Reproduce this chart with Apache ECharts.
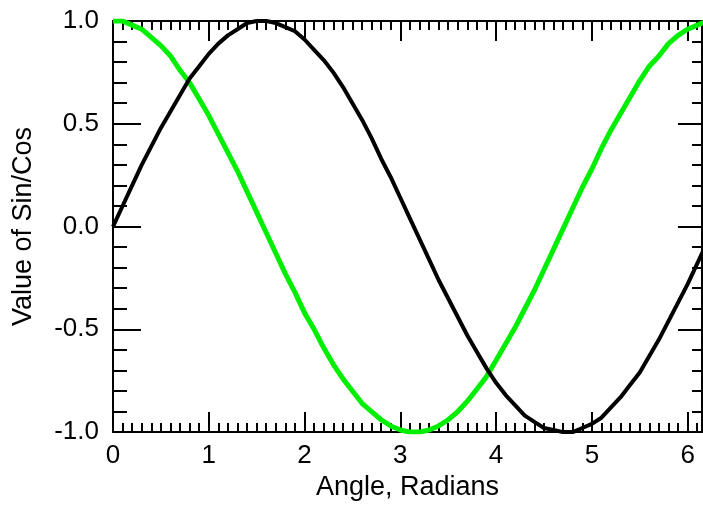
<!DOCTYPE html>
<html>
<head>
<meta charset="utf-8">
<script src="https://cdn.jsdelivr.net/npm/echarts@6/dist/echarts.min.js"></script>
<style>
  html, body { margin: 0; padding: 0; background: #fff; }
  #main { width: 703px; height: 506px; }
</style>
</head>
<body>
<div id="main"></div>
<script>
// angles, step 0.1 rad
var angles = [0.0, 0.1, 0.2, 0.3, 0.4, 0.5, 0.6, 0.7, 0.8, 0.9,
  1.0, 1.1, 1.2, 1.3, 1.4, 1.5, 1.6, 1.7, 1.8, 1.9,
  2.0, 2.1, 2.2, 2.3, 2.4, 2.5, 2.6, 2.7, 2.8, 2.9,
  3.0, 3.1, 3.2, 3.3, 3.4, 3.5, 3.6, 3.7, 3.8, 3.9,
  4.0, 4.1, 4.2, 4.3, 4.4, 4.5, 4.6, 4.7, 4.8, 4.9,
  5.0, 5.1, 5.2, 5.3, 5.4, 5.5, 5.6, 5.7, 5.8, 5.9,
  6.0, 6.1, 6.2];

// black curve
var sinValues = [0.00, 0.10, 0.20, 0.30, 0.39, 0.48, 0.56, 0.64, 0.72, 0.78,
  0.84, 0.89, 0.93, 0.96, 0.99, 1.00, 1.00, 0.99, 0.97, 0.95,
  0.91, 0.86, 0.81, 0.75, 0.68, 0.60, 0.52, 0.43, 0.33, 0.24,
  0.14, 0.04, -0.06, -0.16, -0.26, -0.35, -0.44, -0.53, -0.61, -0.69,
  -0.76, -0.82, -0.87, -0.92, -0.95, -0.98, -0.99, -1.00, -1.00, -0.98,
  -0.96, -0.93, -0.88, -0.83, -0.77, -0.71, -0.63, -0.55, -0.46, -0.37,
  -0.28, -0.18, -0.08];

// green curve
var cosValues = [1.00, 1.00, 0.98, 0.96, 0.92, 0.88, 0.83, 0.76, 0.70, 0.62,
  0.54, 0.45, 0.36, 0.27, 0.17, 0.07, -0.03, -0.13, -0.23, -0.32,
  -0.42, -0.50, -0.59, -0.67, -0.74, -0.80, -0.86, -0.90, -0.94, -0.97,
  -0.99, -1.00, -1.00, -0.99, -0.97, -0.94, -0.90, -0.85, -0.79, -0.73,
  -0.65, -0.57, -0.49, -0.40, -0.31, -0.21, -0.11, -0.01, 0.09, 0.19,
  0.28, 0.38, 0.47, 0.55, 0.63, 0.71, 0.78, 0.83, 0.89, 0.93,
  0.96, 0.98, 1.00];

var yTickLabels = ['-1.0', '-0.5', '0.0', '0.5', '1.0'];

var xMax = 6.15;
var font = 'Liberation Sans, Arial, Helvetica, sans-serif';

function pairs(xs, ys) {
  return xs.map(function (x, i) { return [x, ys[i]]; });
}

function xAxisDef(pos, interval, tickLen, withLine, withLabel) {
  return {
    type: 'value',
    position: pos,
    min: 0,
    max: xMax,
    interval: interval,
    splitLine: { show: false },
    axisLine: { show: withLine, onZero: false, lineStyle: { color: '#000', width: 2 } },
    axisTick: { show: true, inside: true, length: tickLen, lineStyle: { color: '#000', width: 2 } },
    axisLabel: {
      show: withLabel,
      color: '#000',
      fontSize: 26,
      fontFamily: font,
      margin: 11,
      showMaxLabel: false,
      formatter: function (v) { return Math.abs(v - Math.round(v)) < 1e-6 ? String(Math.round(v)) : ''; }
    },
    name: withLabel ? 'Angle, Radians' : '',
    nameLocation: 'middle',
    nameGap: 41,
    nameTextStyle: { color: '#000', fontSize: 27, fontFamily: font }
  };
}

function yAxisDef(pos, majorLen, minorLen, withLabel) {
  return {
    type: 'value',
    position: pos,
    min: -1,
    max: 1,
    interval: 0.5,
    splitLine: { show: false },
    axisLine: { show: true, onZero: false, lineStyle: { color: '#000', width: 2 } },
    axisTick: { show: true, inside: true, length: majorLen, lineStyle: { color: '#000', width: 2 } },
    minorTick: { show: true, splitNumber: 5, length: minorLen, lineStyle: { color: '#000', width: 2 } },
    minorSplitLine: { show: false },
    axisLabel: {
      show: withLabel,
      color: '#000',
      fontSize: 26,
      fontFamily: font,
      margin: 14,
      formatter: function (v) { return yTickLabels[Math.round((v + 1) * 2)]; }
    },
    name: withLabel ? 'Value of Sin/Cos' : '',
    nameLocation: 'middle',
    nameGap: 76,
    nameRotate: 90,
    nameTextStyle: { color: '#000', fontSize: 27, fontFamily: font }
  };
}

var myChart = echarts.init(document.getElementById('main'));

var option = {
  animation: false,
  backgroundColor: '#fff',
  grid: { left: 113, right: 1, top: 21, bottom: 68 },
  xAxis: [
    xAxisDef('bottom', 1, 20, true, true),
    xAxisDef('bottom', 0.1, 9, false, false),
    xAxisDef('top', 1, 20, true, false),
    xAxisDef('top', 0.1, 9, false, false)
  ],
  yAxis: [
    yAxisDef('left', 28, 14, true),
    yAxisDef('right', 24, 10, false)
  ],
  series: [
    {
      name: 'sin',
      type: 'line',
      xAxisIndex: 0,
      yAxisIndex: 0,
      data: pairs(angles, sinValues),
      showSymbol: false,
      smooth: false,
      lineStyle: { color: '#000', width: 4 },
      z: 3
    },
    {
      name: 'cos',
      type: 'line',
      xAxisIndex: 0,
      yAxisIndex: 0,
      data: pairs(angles, cosValues),
      showSymbol: false,
      smooth: false,
      lineStyle: { color: '#00ee00', width: 5 },
      z: 2
    }
  ]
};

myChart.setOption(option);
</script>
</body>
</html>
